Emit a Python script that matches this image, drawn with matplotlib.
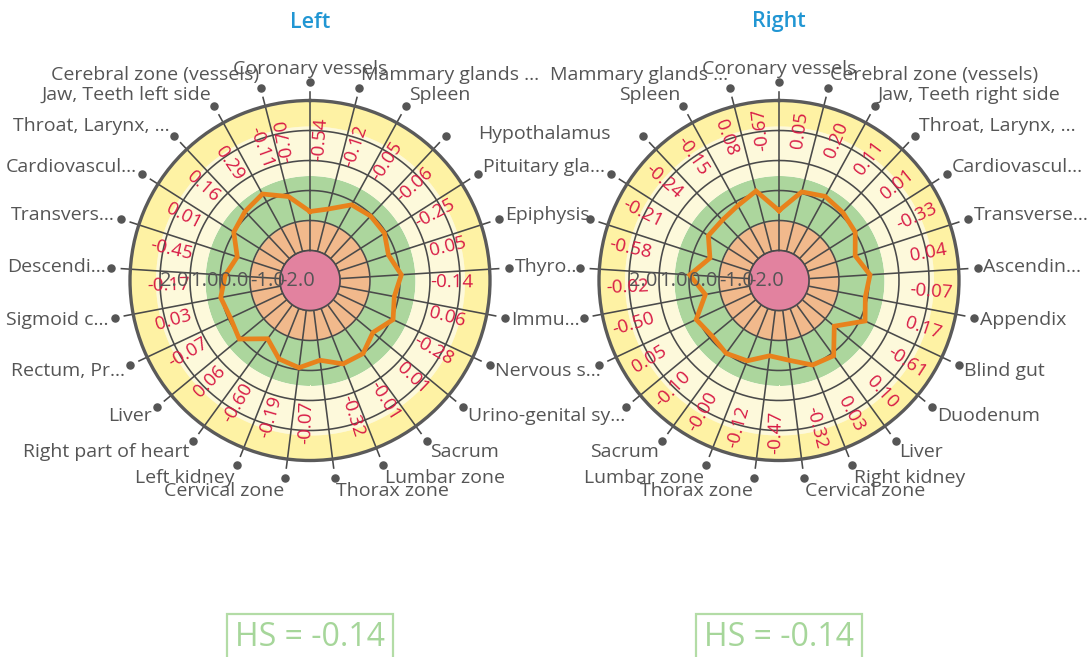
import numpy as np
import matplotlib
matplotlib.use("Agg")
import matplotlib.pyplot as plt
from matplotlib.patches import Rectangle

plt.rcParams['font.family'] = ['Open Sans', 'DejaVu Sans']

# ---- data ----
categories_left = ["Coronary vessels", "Mammary glands ...", "Spleen", "Hypothalamus",
                   "Pituitary gla...", "Epiphysis", "Thyro...", "Immu...", "Nervous s...",
                   "Urino-genital sy...", "Sacrum", "Lumbar zone", "Thorax zone",
                   "Cervical zone", "Left kidney", "Right part of heart", "Liver",
                   "Rectum, Pr...", "Sigmoid c...", "Descendi...", "Transvers...",
                   "Cardiovascul...", "Throat, Larynx, ...", "Jaw, Teeth left side",
                   "Cerebral zone (vessels)"]
values_left = [-0.70, -0.54, -0.12, -0.05, -0.06, -0.25, 0.05, -0.14, 0.06, -0.28,
               0.01, -0.01, -0.32, -0.07, -0.19, -0.60, 0.06, -0.07, 0.03, -0.17,
               -0.45, 0.01, 0.16, 0.29, -0.11]

categories_right = ["Coronary vessels", "Cerebral zone (vessels)", "Jaw, Teeth right side",
                    "Throat, Larynx, ...", "Cardiovascul...", "Transverse...", "Ascendin...",
                    "Appendix", "Blind gut", "Duodenum", "Liver", "Right kidney",
                    "Cervical zone", "Thorax zone", "Lumbar zone", "Sacrum",
                    "Urino-genital sy...", "Nervous s...", "Immu...", "Thyro...",
                    "Epiphysis", "Pituitary gla...", "Hypothalamus", "Spleen",
                    "Mammary glands ..."]
values_right = [-0.67, 0.05, 0.20, 0.11, 0.01, -0.33, 0.04, -0.07, 0.17, -0.61,
                0.10, 0.03, -0.32, -0.47, -0.12, -0.00, -0.10, 0.05, -0.50, -0.02,
                -0.58, -0.21, -0.24, -0.15, 0.08]

hs_left = -0.14
hs_right = -0.14

# radial scale and colour bands (value ranges)
r_ticks = [2.0, 1.0, 0.0, -1.0, -2.0]
bands = [(-3.0, -2.0, '#e2829f'), (-2.0, -1.0, '#f1b98c'), (-1.0, 0.5, '#acd69d'),
         (0.5, 2.15, '#fdf9db'), (2.15, 3.0, '#fef2a4')]

W, H = 1089, 657
fig = plt.figure(figsize=(W / 100, H / 100), dpi=100)

GRID = '#4a4a4a'
TEXT = '#555555'
RED = '#d81b45'


def draw_chart(cx, title, cats, vals, lab_r, off_right, off_left, hidden=(), nudge=None):
    rad = 180
    ax = fig.add_axes([(cx - rad) / W, (H - 280.5 - rad) / H, 2 * rad / W, 2 * rad / H],
                      projection='polar')
    ax.set_theta_zero_location('N')
    ax.set_theta_direction(-1)
    ax.set_ylim(-3, 3)
    ax.grid(False)
    ax.set_xticks([])
    ax.set_yticks([])
    ax.spines['polar'].set_edgecolor('#5a5a5a')
    ax.spines['polar'].set_linewidth(2.4)
    ax.spines['polar'].set_zorder(7)

    n = len(cats)
    ang = np.arange(n) * 2 * np.pi / n
    full = np.linspace(0, 2 * np.pi, 400)

    for lo, hi, col in bands:
        ax.fill_between(full, lo, hi, color=col, lw=0, zorder=1)
    # spokes (with small ticks past the rim)
    for t in ang:
        ax.plot([t, t], [-2, 3.3], color=GRID, lw=1.15, zorder=2, clip_on=False)
    for rv in r_ticks:
        ax.plot(full, np.full_like(full, rv), color=GRID, lw=1.15, zorder=2)
    # pink centre on top of spokes
    ax.fill_between(full, -3, -2, color=bands[0][2], lw=0, zorder=3)
    ax.plot(full, np.full_like(full, -2.0), color=GRID, lw=1.15, zorder=3)

    # series line
    ax.plot(np.append(ang, ang[0]), np.append(vals, vals[0]), color='#e8821c',
            lw=3.4, zorder=4, solid_joinstyle='miter')

    # data labels
    for t, v in zip(ang, vals):
        deg = np.degrees(t)
        right_side = deg < 180
        ld = deg + (off_right if right_side else off_left)
        rot = (90 - ld) if right_side else (270 - ld)
        ax.text(np.radians(ld), lab_r, f"{v:.2f}", color=RED, fontsize=13.5,
                rotation=rot, rotation_mode='anchor', ha='center', va='center', zorder=5)

    # category markers and labels
    ax.scatter(ang, np.full(n, 3.63), s=26, color='#555555', zorder=6, clip_on=False)
    for t, name in zip(ang, cats):
        if name in hidden:
            continue
        s = np.sin(t)
        if abs(s) < 0.01:
            ha = 'center'
        elif s > 0:
            ha = 'left'
        else:
            ha = 'right'
        dx, dy = (nudge or {}).get(name, (0, 0))
        ax.annotate(name, xy=(t, 3.83), xytext=(dx, 7 * np.cos(t) + dy),
                    textcoords='offset pixels', ha=ha, va='center',
                    fontsize=14, color=TEXT, annotation_clip=False, zorder=6)

    # radial axis labels along the left horizontal
    for rv in r_ticks:
        ax.text(np.radians(270), rv, f"{rv:.1f}", color=TEXT, fontsize=14.5,
                ha='left', va='center', zorder=8)

    fig.text(cx / W, 1 - 22 / H, title, color='#2196d3', fontsize=15.5,
             fontweight='semibold', ha='center', va='center')
    return ax


# labels of the right chart that sit on top of the left chart's own labels
shared = ("Hypothalamus", "Pituitary gla...", "Epiphysis", "Thyro...", "Immu...",
          "Nervous s...", "Urino-genital sy...")

draw_chart(310, "Left", categories_left, values_left, lab_r=1.73,
           off_right=-10.3, off_left=-5.5, nudge={"Hypothalamus": (28, -8)})
draw_chart(779, "Right", categories_right, values_right, lab_r=2.07,
           off_right=-6.8, off_left=-6.0, hidden=shared)

# HS boxes
for cx, hs in [(310, hs_left), (779, hs_right)]:
    fig.patches.append(Rectangle(((cx - 83) / W, (H - 674) / H), 166 / W, 60 / H,
                                 transform=fig.transFigure, fill=False,
                                 edgecolor='#b3dca6', lw=1.6))
    fig.text(cx / W, 1 - 637 / H, f"HS = {hs:.2f}", color='#a6d69a', fontsize=23,
             ha='center', va='center')

fig.savefig("out.png", dpi=100)
